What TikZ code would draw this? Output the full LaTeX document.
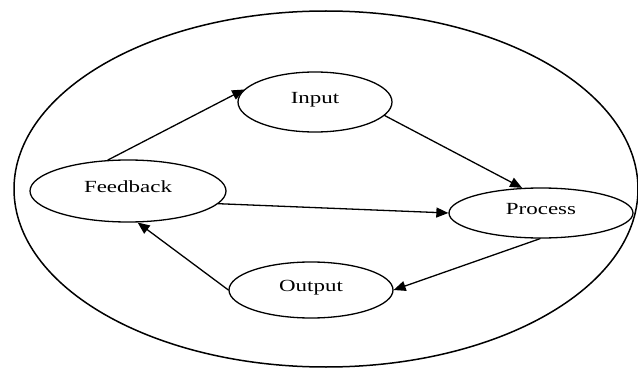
\documentclass[tikz,border=0pt]{standalone}
\usepackage{fontspec}
\newfontfamily\boxfont[FakeStretch=1.35]{Liberation Serif}
\usetikzlibrary{shapes.geometric,arrows.meta}
\begin{document}
\begin{tikzpicture}[x=1pt, y=-1pt, line join=round, line cap=round,
	stage/.style={draw, ellipse, inner sep=0pt, line width=1.3pt, text height=11pt, text depth=8pt,
		font=\boxfont\fontsize{17}{20}\selectfont},
	flow/.style={line width=1.3pt, -{Triangle[length=12pt,width=10pt]}}]
	\useasboundingbox (0,0) rectangle (638,369);
	% outer loop
	\draw[line width=1.5pt] (326,189) ellipse [x radius=312, y radius=178];
	\node[stage, minimum width=154pt, minimum height=60pt] (input) at (315,102) {Input};
	\node[stage, minimum width=196pt, minimum height=62pt] (feedback) at (128,191) {Feedback};
	\node[stage, minimum width=184pt, minimum height=50pt] (process) at (541,213) {Process};
	\node[stage, minimum width=164pt, minimum height=56pt] (output) at (311,290) {Output};
	\draw[flow] (feedback.123) -- (input.170);
	\draw[flow] (input.-11) -- (process.127);
	\draw[flow] (feedback.-8) -- (process.180);
	\draw[flow] (process.268) -- (output.0);
	\draw[flow] (output.180) -- (feedback.287);
\end{tikzpicture}
\end{document}
